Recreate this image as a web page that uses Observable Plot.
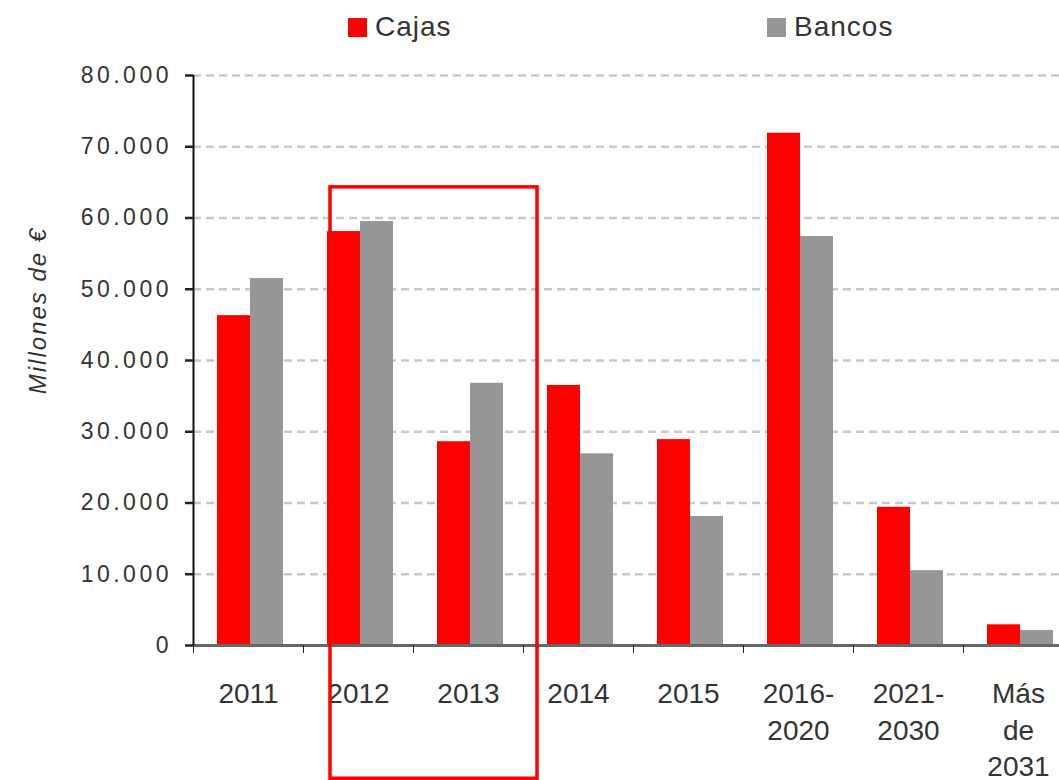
<!DOCTYPE html>
<html>
<head>
<meta charset="utf-8">
<script src="https://cdn.jsdelivr.net/npm/d3@7"></script>
<script src="https://cdn.jsdelivr.net/npm/@observablehq/plot@0.6"></script>
<style>
  body { margin: 0; background: #fff; overflow: hidden; font-family: "Liberation Sans", Arial, sans-serif; }
  #legend { position: relative; height: 50px; }
  .item { position: absolute; top: 2px; height: 50px; display: flex; align-items: center; font-size: 28px; color: #333; letter-spacing: 1px; }
  .sw { width: 19px; height: 19px; margin-right: 8px; }
  g[aria-label="y-axis tick label"] text { letter-spacing: 3.5px; }
  .ytitle text { letter-spacing: 2px; }
</style>
</head>
<body>
<div id="legend"></div>
<div id="chart"></div>
<script>
const categories = ["2011", "2012", "2013", "2014", "2015", "2016-2020", "2021-2030", "Más de 2031"];
const tickLabels = ["2011", "2012", "2013", "2014", "2015", "2016-\n2020", "2021-\n2030", "Más\nde\n2031"];
const cajas  = [46300, 58100, 28600, 36500, 28900, 71900, 19400, 2900];
const bancos = [51500, 59500, 36800, 26900, 18100, 57400, 10500, 2100];
const seriesNames = ["Cajas", "Bancos"];
const seriesColors = ["#ff0000", "#969696"];
const yTicks = [0, 10000, 20000, 30000, 40000, 50000, 60000, 70000, 80000];
const yTitle = "Millones de €";
const highlight = [{from: "2012", to: "2013", top: 64300, bottom: -18700}];

// legend
const legendPos = [348, 767];
const legend = document.getElementById("legend");
seriesNames.forEach((name, i) => {
  const it = document.createElement("div");
  it.className = "item";
  it.style.left = legendPos[i] + "px";
  const sw = document.createElement("span");
  sw.className = "sw";
  sw.style.background = seriesColors[i];
  it.appendChild(sw);
  it.appendChild(document.createTextNode(name));
  legend.appendChild(it);
});

const data = categories.flatMap((c, i) => [
  {cat: c, serie: seriesNames[0], value: cajas[i]},
  {cat: c, serie: seriesNames[1], value: bancos[i]}
]);

const fmt = d3.formatLocale({thousands: ".", grouping: [3], decimal: ",", currency: ["", "€"]}).format(",");

const chart = Plot.plot({
  width: 1073,
  height: 730,
  marginLeft: 193,
  marginRight: 0,
  marginTop: 25,
  marginBottom: 135,
  style: {fontFamily: '"Liberation Sans", Arial, sans-serif', color: "#333", overflow: "visible", maxWidth: "none", background: "transparent"},
  x: {domain: categories, padding: 0, axis: null},
  y: {domain: [0, 80000], axis: null},
  marks: [
    Plot.gridY(yTicks, {stroke: "#c8c8c8", strokeOpacity: 1, strokeWidth: 2.5, strokeDasharray: "8,5"}),
    Plot.barY(data.filter(d => d.serie === seriesNames[0]), {x: "cat", y: "value", fill: seriesColors[0], insetLeft: 24, insetRight: 53}),
    Plot.barY(data.filter(d => d.serie === seriesNames[1]), {x: "cat", y: "value", fill: seriesColors[1], insetLeft: 57, insetRight: 20}),
    Plot.ruleY([0], {stroke: "#666", strokeWidth: 3}),
    Plot.ruleX([categories[0]], {x: d => d, dx: -55, y1: 0, y2: 80000, stroke: "#111", strokeWidth: 2}),
    Plot.axisY(yTicks, {tickSize: 8, tickPadding: 13.5, tickFormat: fmt, fontSize: 23, strokeWidth: 2.5, stroke: "#222", fill: "#333"}),
    Plot.axisX({tickSize: 8, tickFormat: () => "", dx: -55, stroke: "#222"}),
    Plot.axisX({tickSize: 0, tickPadding: 32, tickFormat: d => tickLabels[categories.indexOf(d)], fontSize: 28, lineHeight: 1.3, fill: "#333"}),
    Plot.rect(highlight, {x1: "from", x2: "to", y1: "bottom", y2: "top", fill: "none", stroke: "#ff0000", strokeWidth: 3.5, insetLeft: 27, insetRight: -14, clip: false}),
    Plot.text([yTitle], {frameAnchor: "left", textAnchor: "middle", rotate: -90, dx: -155, dy: -50, fontSize: 24, fontStyle: "italic", fill: "#333", className: "ytitle"})
  ]
});
document.getElementById("chart").appendChild(chart);
</script>
</body>
</html>
